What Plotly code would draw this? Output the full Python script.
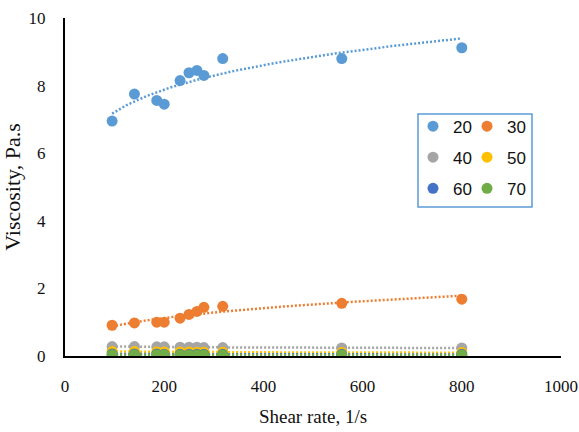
import numpy as np
import plotly.graph_objects as go

# Shear rate (1/s) and viscosity (Pa.s) at each temperature
shear_rate = [95, 140, 185, 200, 232, 250, 266, 280, 318, 558, 800]
visc_20 = [6.95, 7.75, 7.56, 7.45, 8.15, 8.38, 8.45, 8.30, 8.80, 8.80, 9.12]
visc_30 = [0.91, 0.98, 1.00, 1.00, 1.12, 1.23, 1.32, 1.44, 1.47, 1.56, 1.68]
visc_40 = [0.28, 0.28, 0.27, 0.27, 0.26, 0.26, 0.26, 0.25, 0.25, 0.24, 0.24]
visc_50 = [0.13, 0.13, 0.12, 0.12, 0.12, 0.12, 0.11, 0.11, 0.11, 0.10, 0.10]
visc_60 = [0.06, 0.06, 0.06, 0.05, 0.05, 0.05, 0.05, 0.05, 0.05, 0.05, 0.05]
visc_70 = [0.04, 0.04, 0.04, 0.04, 0.03, 0.03, 0.03, 0.03, 0.03, 0.03, 0.03]

series_names = ["20", "30", "40", "50", "60", "70"]
series_values = [visc_20, visc_30, visc_40, visc_50, visc_60, visc_70]
series_colors = ["#5B9BD5", "#ED7D31", "#A5A5A5", "#FFC000", "#4472C4", "#70AD47"]
legend_column = ["legend", "legend2", "legend", "legend2", "legend", "legend2"]

x = np.array(shear_rate, dtype=float)
x_fit = np.linspace(x.min(), x.max(), 200)

fig = go.Figure()

# power-law trendlines (log-log least squares), drawn beneath the markers
for name, vals, color in zip(series_names, series_values, series_colors):
    y = np.array(vals, dtype=float)
    b, ln_a = np.polyfit(np.log(x), np.log(y), 1)
    fig.add_trace(go.Scatter(
        x=x_fit, y=np.exp(ln_a) * x_fit ** b, mode="lines",
        line=dict(color=color, width=2.5, dash="2px,2px"),
        showlegend=False, hoverinfo="skip",
    ))

for name, vals, color, lg in zip(series_names, series_values, series_colors, legend_column):
    fig.add_trace(go.Scatter(
        x=shear_rate, y=vals, mode="markers", name=name,
        marker=dict(color=color, size=11, line=dict(width=0)),
        legend=lg, legendgroup=name,
    ))

serif = "Liberation Serif, Times New Roman, serif"
legend_font = dict(family="Liberation Sans, Arial, sans-serif", size=17, color="#111111")

legend_common = dict(
    orientation="v", xanchor="left", yanchor="top",
    bgcolor="rgba(0,0,0,0)", borderwidth=0,
    font=legend_font, traceorder="grouped", tracegroupgap=6,
)

fig.update_layout(
    width=579, height=432,
    margin=dict(l=65, r=18, t=18, b=76, autoexpand=False),
    paper_bgcolor="white", plot_bgcolor="white",
    font=dict(family=serif, color="#111111"),
    legend=dict(x=0.7016, y=0.732, **legend_common),
    legend2=dict(x=0.8105, y=0.732, **legend_common),
    shapes=[dict(
        type="rect", xref="paper", yref="paper",
        x0=0.7117, x1=0.9415, y0=0.441, y1=0.716,
        line=dict(color="#5B9BD5", width=1.5), fillcolor="rgba(0,0,0,0)",
        layer="below",
    )],
    xaxis=dict(
        range=[0, 1000], dtick=200, tick0=0, automargin=False,
        showgrid=False, zeroline=False,
        showline=True, linecolor="black", linewidth=2,
        ticks="", ticklabelstandoff=14,
        tickfont=dict(family=serif, size=17, color="#111111"),
        title=dict(text="Shear rate, 1/s", standoff=14,
                   font=dict(family=serif, size=19, color="#111111")),
    ),
    yaxis=dict(
        range=[0, 10], dtick=2, tick0=0, automargin=False,
        showgrid=False, zeroline=False,
        showline=True, linecolor="black", linewidth=2,
        ticks="", ticklabelstandoff=14,
        tickfont=dict(family=serif, size=17, color="#111111"),
        title=dict(text="Viscosity, Pa.s", standoff=9,
                   font=dict(family=serif, size=22, color="#111111")),
    ),
)

fig.write_html("out.html")
